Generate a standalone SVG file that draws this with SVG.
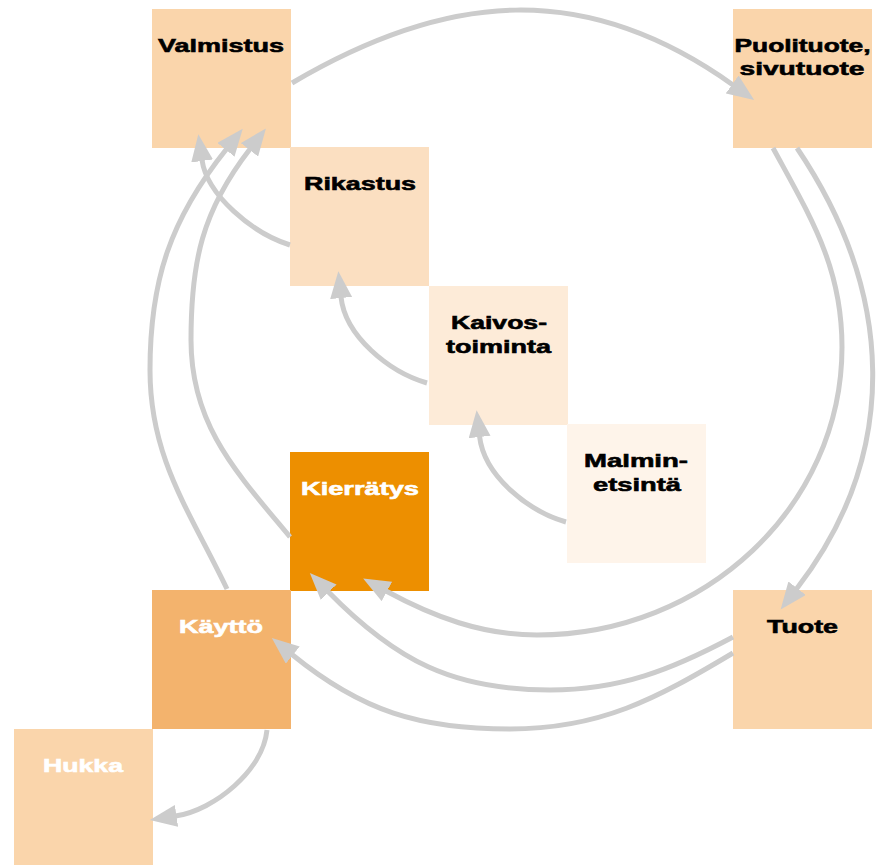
<svg xmlns="http://www.w3.org/2000/svg" width="881" height="865" viewBox="0 0 881 865">
<defs>
<style>
.lbl{font-family:"Liberation Sans",Arial,sans-serif;font-weight:bold;font-size:19px;text-anchor:middle;stroke-width:0.6px}
.dk{fill:#000;stroke:#000}
.wt{fill:#fff;stroke:#fff}
.con path{fill:none;stroke:#CCCCCC;stroke-width:5;marker-end:url(#ah)}
</style>
<marker id="ah" markerUnits="userSpaceOnUse" viewBox="0 0 27 22" markerWidth="27" markerHeight="22" refX="1" refY="11" orient="auto">
<path d="M0,0 L27,11 L0,22 Z" fill="#CCCCCC"/>
</marker>
</defs>
<rect width="881" height="865" fill="#fff"/>
<g id="valmistus"><rect x="152" y="9" width="139" height="139" fill="#FAD5AB"/><text class="lbl dk" x="221" y="52" textLength="126" lengthAdjust="spacingAndGlyphs">Valmistus</text></g>
<g id="puolituote"><rect x="733" y="9" width="139" height="139" fill="#FAD5AB"/><text class="lbl dk" x="802.5" y="52" textLength="136" lengthAdjust="spacingAndGlyphs">Puolituote,</text><text class="lbl dk" x="802" y="75" textLength="125" lengthAdjust="spacingAndGlyphs">sivutuote</text></g>
<g id="rikastus"><rect x="290" y="147" width="139" height="139" fill="#FBDFC1"/><text class="lbl dk" x="360" y="190" textLength="112" lengthAdjust="spacingAndGlyphs">Rikastus</text></g>
<g id="kaivostoiminta"><rect x="429" y="286" width="139" height="139" fill="#FDEBD8"/><text class="lbl dk" x="499" y="329" textLength="96" lengthAdjust="spacingAndGlyphs">Kaivos-</text><text class="lbl dk" x="498.5" y="352.5" textLength="105" lengthAdjust="spacingAndGlyphs">toiminta</text></g>
<g id="malminetsinta"><rect x="567" y="424" width="139" height="139" fill="#FEF4EA"/><text class="lbl dk" x="636" y="467" textLength="104" lengthAdjust="spacingAndGlyphs">Malmin-</text><text class="lbl dk" x="637" y="491" textLength="88" lengthAdjust="spacingAndGlyphs">etsintä</text></g>
<g id="kierratys"><rect x="290" y="452" width="139" height="139" fill="#ED8F00"/><text class="lbl wt" x="360" y="495" textLength="118" lengthAdjust="spacingAndGlyphs">Kierrätys</text></g>
<g id="kaytto"><rect x="152" y="590" width="139" height="139" fill="#F3B36D"/><text class="lbl wt" x="221" y="633" textLength="84" lengthAdjust="spacingAndGlyphs">Käyttö</text></g>
<g id="hukka"><rect x="14" y="729" width="139" height="136" fill="#FAD5AB"/><text class="lbl wt" x="83" y="772" textLength="80" lengthAdjust="spacingAndGlyphs">Hukka</text></g>
<g id="tuote"><rect x="733" y="590" width="139" height="139" fill="#FAD5AB"/><text class="lbl dk" x="802.5" y="633" textLength="71" lengthAdjust="spacingAndGlyphs">Tuote</text></g>
<g id="connectors" class="con">
<path d="M292,83 C448,-9 586,-20 733,85"/>
<path d="M797,148 C894,292 902,452 796.5,589"/>
<path d="M773,148 C811,218 842,267 842,347 C842,506 705,635 537,635 C482,635 434,617 386,591"/>
<path d="M733,637 C671,670 620,690 550,690 C453,690 396,661 328,591.5"/>
<path d="M733,653 C656,699 600,729 510,729 C420,729 362,711.5 292,654.5"/>
<path d="M290,537 C236,472 191,425 191,340 C191,262 202,211 250,149"/>
<path d="M227,589 C189,510 150,458 150,370 C150,280 170.5,219 226.5,149"/>
<path d="M290,245 C252,233 207,195 202,160"/>
<path d="M427,383 C389,372 345,336 341,297"/>
<path d="M566,522 C528,511 484,476 479.5,436"/>
<path d="M267,730 C263,770 215,810 175.5,816"/>
</g>
</svg>
